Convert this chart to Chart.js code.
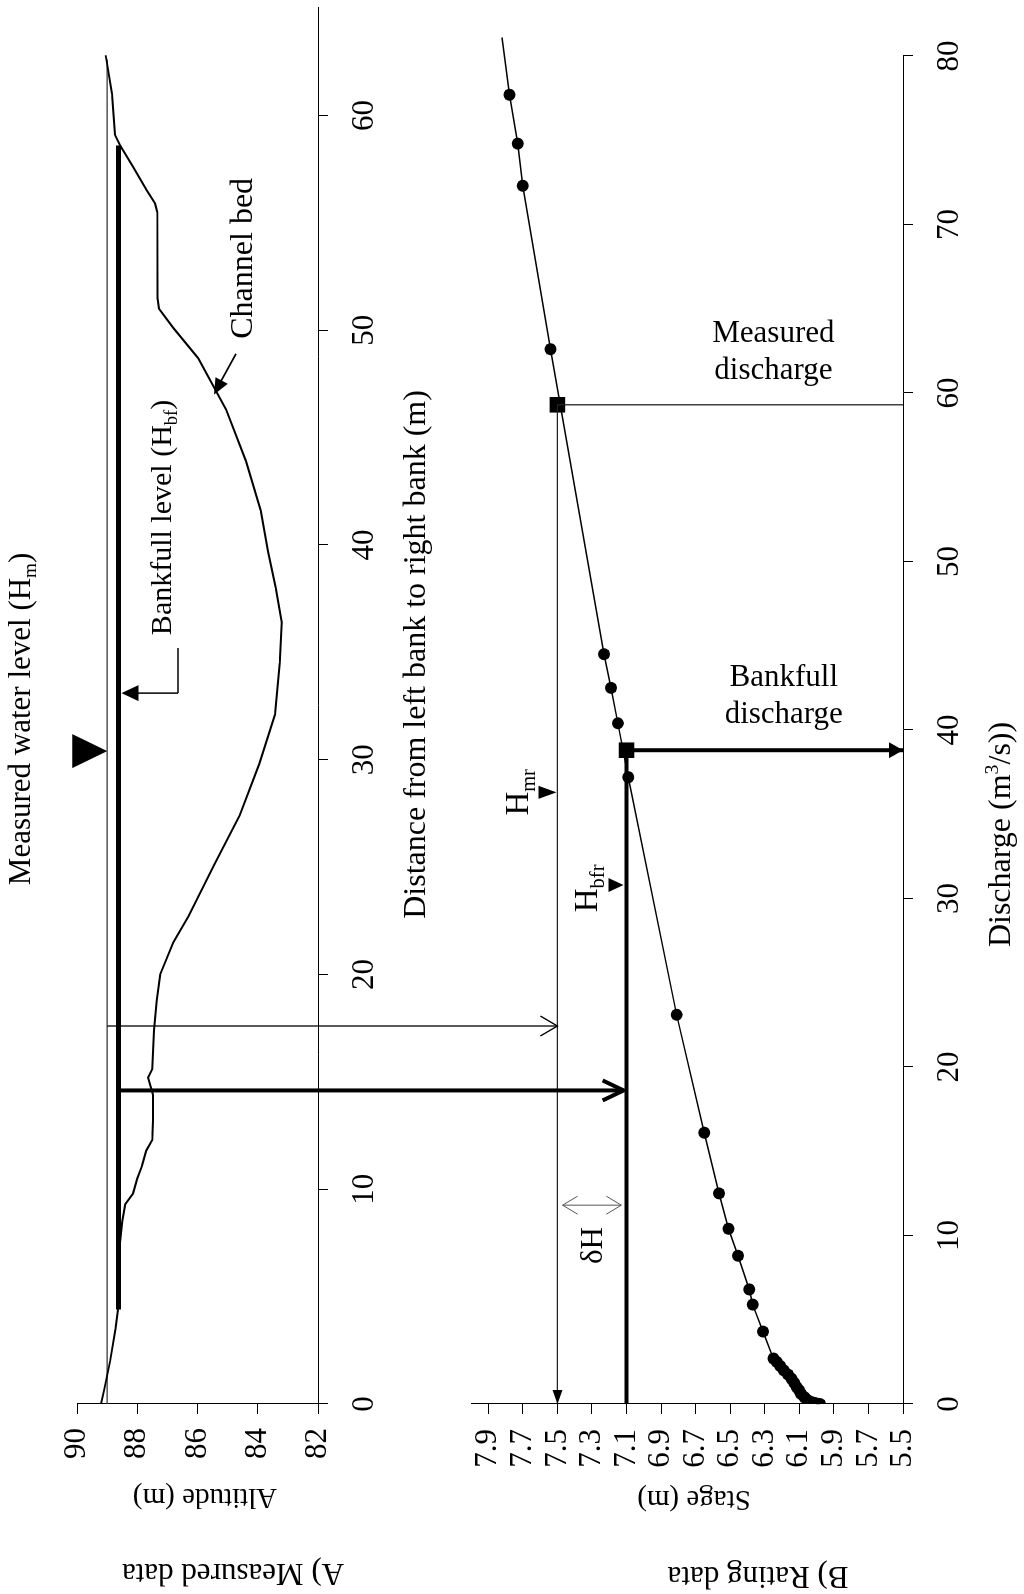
<!DOCTYPE html>
<html>
<head>
<meta charset="utf-8">
<script src="https://cdn.jsdelivr.net/npm/chart.js@4.4.1/dist/chart.umd.min.js"></script>
<style>
  html, body { margin: 0; padding: 0; background: #fff; overflow: hidden; }
  /* the figure is drawn upright (1594 x 1024) and turned a quarter left */
  #page { position: absolute; left: 0; top: 0; width: 1594px; height: 1024px;
          transform-origin: 0 0; transform: translateY(1594px) rotate(-90deg); }
  #page canvas { position: absolute; left: 0; top: 0; }
</style>
</head>
<body>
<div id="page">
  <canvas id="chartA" width="1594" height="1024"></canvas>
  <canvas id="chartB" width="1594" height="1024"></canvas>
</div>
<script>
// ---- A) measured data: channel cross-section ----
var bedDistance = [0, 0.65, 2, 3.5, 4.4, 5.5, 7.4, 8.5, 9.3, 9.8, 10.5, 11.1, 11.8, 12.3, 13.2, 14.4, 15.2, 15.6,
                   17.4, 18.8, 20, 21.5, 22.7, 25.1, 27.4, 29.8, 32.1, 34.5, 36.4, 38, 39.7, 41.6, 43.9, 46.3,
                   48.7, 50.1, 51, 51.5, 55.5, 55.9, 56.5, 57.6, 58.6, 59.1, 61, 62.4, 62.8];
var bedAltitude = [89.2, 89.1, 88.9, 88.72, 88.64, 88.62, 88.58, 88.5, 88.4, 88.14, 88.0, 87.84, 87.7, 87.5, 87.48, 87.48, 87.64, 87.5,
                   87.44, 87.35, 87.24, 86.8, 86.3, 85.45, 84.6, 83.95, 83.43, 83.27, 83.2, 83.4, 83.66, 83.9, 84.39, 85.05,
                   85.98, 86.8, 87.28, 87.33, 87.34, 87.41, 87.68, 88.14, 88.57, 88.74, 88.84, 89.0, 89.05];
var waterLevel = 89.0;            // H_m
var waterExtent = [0, 62.6];
var bankfullLevel = 88.62;        // H_bf
var bankfullExtent = [4.4, 58.6];
var markerDistance = 30.4;
var distanceTicks = [0, 10, 20, 30, 40, 50, 60];
var altitudeTicks = [82, 84, 86, 88, 90];

// ---- B) rating data ----
var ratingQ = [0, 0.03, 0.08, 0.15, 0.25, 0.4, 0.6, 0.8, 1.0, 1.25, 1.5, 1.75, 2.0, 2.25, 2.5, 2.7,
               4.3, 5.9, 6.8, 8.8, 10.4, 12.5, 16.1, 23.1, 37.2, 40.4, 42.5, 44.5, 62.6, 72.3, 74.8, 77.7];
var ratingStage = [5.98, 6.0, 6.02, 6.04, 6.055, 6.07, 6.09, 6.1, 6.115, 6.13, 6.145, 6.165, 6.19, 6.21, 6.23, 6.25,
                   6.31, 6.37, 6.39, 6.455, 6.51, 6.565, 6.65, 6.81, 7.09, 7.15, 7.19, 7.23, 7.54, 7.7, 7.73, 7.777];
var curveEnd = [81.1, 7.82];
var measuredQ = 59.3, measuredStage = 7.5;     // H_mr
var bankfullQ = 38.8, bankfullStage = 7.1;     // H_bfr
var dischargeTicks = [0, 10, 20, 30, 40, 50, 60, 70, 80];
var stageTicks = [5.5, 5.7, 5.9, 6.1, 6.3, 6.5, 6.7, 6.9, 7.1, 7.3, 7.5, 7.7, 7.9];

var FAM = '"Liberation Serif", "Times New Roman", serif';
Chart.defaults.font.family = FAM;
Chart.defaults.color = '#000';

function xy(xs, ys) { return xs.map(function (x, i) { return { x: x, y: ys[i] }; }); }

function rich(ctx, parts, x, y, size, angle, align) {
  ctx.save();
  ctx.translate(x, y);
  if (angle) ctx.rotate(angle);
  var w = 0;
  parts.forEach(function (p) { ctx.font = (p.s ? size * 0.62 : size) + 'px ' + FAM; w += ctx.measureText(p.t).width; });
  var cx = align === 'left' ? 0 : -w / 2;
  ctx.textAlign = 'left';
  ctx.textBaseline = 'middle';
  ctx.fillStyle = '#000';
  parts.forEach(function (p) {
    ctx.font = (p.s ? size * 0.62 : size) + 'px ' + FAM;
    var dy = p.s === 'sub' ? size * 0.3 : (p.s === 'sup' ? -size * 0.3 : 0);
    ctx.fillText(p.t, cx, dy);
    cx += ctx.measureText(p.t).width;
  });
  ctx.restore();
}

function seg(ctx, x1, y1, x2, y2, lw) {
  ctx.lineWidth = lw;
  ctx.beginPath(); ctx.moveTo(x1, y1); ctx.lineTo(x2, y2); ctx.stroke();
}

// arrow head with its tip at (x2, y2)
function head(ctx, x1, y1, x2, y2, len, half, fill, lw) {
  var a = Math.atan2(y2 - y1, x2 - x1);
  var bx = x2 - len * Math.cos(a), by = y2 - len * Math.sin(a);
  var px = -Math.sin(a) * half, py = Math.cos(a) * half;
  ctx.beginPath();
  ctx.moveTo(bx + px, by + py); ctx.lineTo(x2, y2); ctx.lineTo(bx - px, by - py);
  if (fill) { ctx.closePath(); ctx.fill(); }
  else { ctx.lineWidth = lw; ctx.stroke(); }
}

function axisStyle(ticksArr, fmt, pad) {
  return {
    type: 'linear',
    grid: { display: true, drawOnChartArea: false, drawTicks: true, tickLength: 10, color: '#000' },
    border: { display: true, color: '#000', width: 1 },
    ticks: { font: { size: 31 }, color: '#000', padding: pad, maxRotation: 0, autoSkip: false,
             callback: fmt || function (v) { return String(v); } },
    afterBuildTicks: function (axis) { axis.ticks = ticksArr.map(function (v) { return { value: v }; }); }
  };
}

// ---------------- panel A ----------------
var labelsA = {
  id: 'labelsA',
  afterDraw: function (chart) {
    var ctx = chart.ctx, x = chart.scales.x, y = chart.scales.y, ca = chart.chartArea;
    ctx.save();
    ctx.fillStyle = '#000'; ctx.strokeStyle = '#000';

    // big marker on the measured water level
    var tx = x.getPixelForValue(markerDistance), ty = y.getPixelForValue(waterLevel);
    ctx.beginPath(); ctx.moveTo(tx - 17, ty - 35); ctx.lineTo(tx + 17, ty - 35); ctx.lineTo(tx, ty); ctx.closePath(); ctx.fill();
    rich(ctx, [{ t: 'Measured water level (H' }, { t: 'm', s: 'sub' }, { t: ')' }],
         x.getPixelForValue(31.9), ca.top - 55, 31);

    // bankfull level label + leader
    var lx1 = x.getPixelForValue(35.2), lx2 = x.getPixelForValue(33.1), ly = y.getPixelForValue(86.65);
    var tipY = y.getPixelForValue(bankfullLevel) + 3;
    seg(ctx, lx1, ly, lx2, ly, 1.5);
    seg(ctx, lx2, ly, lx2, tipY + 14, 1.5);
    head(ctx, lx2, ly, lx2, tipY, 17, 8, true);
    rich(ctx, [{ t: 'Bankfull level (H' }, { t: 'bf', s: 'sub' }, { t: ')' }],
         x.getPixelForValue(35.8), y.getPixelForValue(87.15), 30, 0, 'left');

    // channel bed label + arrow
    var cx1 = x.getPixelForValue(48.9), cy1 = y.getPixelForValue(84.72);
    var cx2 = x.getPixelForValue(47.0), cy2 = y.getPixelForValue(85.45);
    seg(ctx, cx1, cy1, cx2 + 8, cy2 + 4, 1.8);
    head(ctx, cx1, cy1, cx2, cy2, 16, 7, true);
    rich(ctx, [{ t: 'Channel bed' }], x.getPixelForValue(49.6), y.getPixelForValue(84.46), 32, 0, 'left');

    // axis titles
    rich(ctx, [{ t: 'Distance from left bank to right bank (m)' }], x.getPixelForValue(34.9), ca.bottom + 99, 32);
    rich(ctx, [{ t: 'Altitude (m)' }], ca.left - 93, 205, 29, -Math.PI / 2);
    rich(ctx, [{ t: 'A) Measured data' }], ca.left - 168, 233, 31, -Math.PI / 2);
    ctx.restore();
  }
};

var scaleAX = axisStyle(distanceTicks, null, 18);
scaleAX.min = 0; scaleAX.max = 65; scaleAX.position = 'bottom';
scaleAX.afterFit = function (s) { s.height = 1024 - 318; };
var scaleAY = axisStyle(altitudeTicks, null, 14);
scaleAY.min = 82; scaleAY.max = 90; scaleAY.position = 'left';
scaleAY.afterFit = function (s) { s.width = 190; };

var chartA = new Chart(document.getElementById('chartA'), {
  type: 'scatter',
  data: {
    datasets: [
      { label: 'Channel bed', data: xy(bedDistance, bedAltitude), showLine: true,
        borderColor: '#000', borderWidth: 2, pointRadius: 0 },
      { label: 'Measured water level', data: waterExtent.map(function (d) { return { x: d, y: waterLevel }; }),
        showLine: true, borderColor: '#333', borderWidth: 1.2, pointRadius: 0 },
      { label: 'Bankfull level', data: bankfullExtent.map(function (d) { return { x: d, y: bankfullLevel }; }),
        showLine: true, borderColor: '#000', borderWidth: 5, pointRadius: 0 }
    ]
  },
  options: {
    responsive: false, animation: false, devicePixelRatio: 1,
    layout: { padding: { left: 0, top: 77, right: 8, bottom: 0 } },
    plugins: { legend: { display: false }, tooltip: { enabled: false } },
    scales: { x: scaleAX, y: scaleAY }
  },
  plugins: [labelsA]
});

// ---------------- panel B ----------------
var labelsB = {
  id: 'labelsB',
  afterDraw: function (chart) {
    var ctx = chart.ctx, x = chart.scales.x, y = chart.scales.y, ca = chart.chartArea;
    var ax = chartA.scales.x, ay = chartA.scales.y;
    ctx.save();
    ctx.fillStyle = '#000'; ctx.strokeStyle = '#000';

    // carry the levels from panel A down to the stage axis
    var px = ax.getPixelForValue(17.6), y1 = ay.getPixelForValue(waterLevel), y2 = y.getPixelForValue(measuredStage);
    seg(ctx, px, y1, px, y2, 1.3);
    head(ctx, px, y1, px, y2, 17, 10, false, 1.3);
    px = ax.getPixelForValue(14.6); y1 = ay.getPixelForValue(bankfullLevel); y2 = y.getPixelForValue(bankfullStage) - 3;
    seg(ctx, px, y1, px, y2, 4);
    head(ctx, px, y1, px, y2, 21, 10, false, 4);

    // arrow tips on the rating lines
    var sx0 = x.getPixelForValue(0), sy = y.getPixelForValue(measuredStage);
    head(ctx, sx0 + 20, sy, sx0, sy, 14, 5, true);
    var qx = x.getPixelForValue(bankfullQ), by = y.getPixelForValue(5.5);
    head(ctx, qx, by - 20, qx, by, 14, 8, true);

    // delta H
    var dx = x.getPixelForValue(11.8), da = y.getPixelForValue(7.47), db = y.getPixelForValue(7.13);
    ctx.strokeStyle = '#555';
    seg(ctx, dx, da, dx, db, 1);
    head(ctx, dx, db, dx, da, 15, 9, false, 1);
    head(ctx, dx, da, dx, db, 15, 9, false, 1);
    ctx.strokeStyle = '#000';
    rich(ctx, [{ t: '\u03b4H' }], x.getPixelForValue(9.4), y.getPixelForValue(7.29), 31);

    // rated level markers
    var hx = x.getPixelForValue(36.3), hy = y.getPixelForValue(measuredStage) - 1;
    ctx.beginPath(); ctx.moveTo(hx - 6.5, hy - 18); ctx.lineTo(hx + 6.5, hy - 18); ctx.lineTo(hx, hy); ctx.closePath(); ctx.fill();
    rich(ctx, [{ t: 'H' }, { t: 'mr', s: 'sub' }], hx, y.getPixelForValue(7.72), 33);
    hx = x.getPixelForValue(30.8); hy = y.getPixelForValue(bankfullStage) - 3;
    ctx.beginPath(); ctx.moveTo(hx - 7, hy - 15); ctx.lineTo(hx + 7, hy - 15); ctx.lineTo(hx, hy); ctx.closePath(); ctx.fill();
    rich(ctx, [{ t: 'H' }, { t: 'bfr', s: 'sub' }], x.getPixelForValue(30.6), y.getPixelForValue(7.32), 33);

    // labels read across the page
    var up = Math.PI / 2;
    rich(ctx, [{ t: 'Measured' }], x.getPixelForValue(63.5), y.getPixelForValue(6.25), 31, up);
    rich(ctx, [{ t: 'discharge' }], x.getPixelForValue(61.3), y.getPixelForValue(6.25), 31, up);
    rich(ctx, [{ t: 'Bankfull' }], x.getPixelForValue(43.1), y.getPixelForValue(6.19), 31, up);
    rich(ctx, [{ t: 'discharge' }], x.getPixelForValue(40.9), y.getPixelForValue(6.19), 31, up);

    // axis titles
    rich(ctx, [{ t: 'Discharge (m' }, { t: '3', s: 'sup' }, { t: '/s))' }], x.getPixelForValue(33.8), ca.bottom + 99, 32);
    rich(ctx, [{ t: 'Stage (m)' }], ca.left - 95, 694, 29, -Math.PI / 2);
    rich(ctx, [{ t: 'B) Rating data' }], ca.left - 171, 758, 31, -Math.PI / 2);
    ctx.restore();
  }
};

var scaleBX = axisStyle(dischargeTicks, null, 18);
scaleBX.min = 0; scaleBX.max = 80; scaleBX.position = 'bottom';
scaleBX.afterFit = function (s) { s.height = 1024 - 903; };
var scaleBY = axisStyle(stageTicks, function (v) { return v.toFixed(1); }, 15);
scaleBY.min = 5.5; scaleBY.max = 8.0; scaleBY.position = 'left';
scaleBY.afterFit = function (s) { s.width = 190; };

var chartB = new Chart(document.getElementById('chartB'), {
  type: 'scatter',
  data: {
    datasets: [
      { label: 'Measured discharge', showLine: true, borderColor: '#222', borderWidth: 1.3, pointRadius: 0,
        data: [{ x: 0, y: measuredStage }, { x: measuredQ, y: measuredStage }, { x: measuredQ, y: 5.5 }] },
      { label: 'Bankfull discharge', showLine: true, borderColor: '#000', borderWidth: 4, pointRadius: 0,
        data: [{ x: 0, y: bankfullStage }, { x: bankfullQ, y: bankfullStage }, { x: bankfullQ, y: 5.5 }] },
      { label: 'Rating curve', showLine: true, borderColor: '#000', borderWidth: 1.5, pointRadius: 0, clip: false,
        data: xy(ratingQ, ratingStage).concat([{ x: curveEnd[0], y: curveEnd[1] }]) },
      { label: 'Rating data', showLine: false, data: xy(ratingQ, ratingStage),
        pointRadius: 6, pointBackgroundColor: '#000', pointBorderColor: '#000', pointBorderWidth: 0 },
      { label: 'Rated points', showLine: false, pointStyle: 'rect', pointRadius: 11,
        pointBackgroundColor: '#000', pointBorderColor: '#000', pointBorderWidth: 0,
        data: [{ x: measuredQ, y: measuredStage }, { x: bankfullQ, y: bankfullStage }] }
    ]
  },
  options: {
    responsive: false, animation: false, devicePixelRatio: 1,
    layout: { padding: { left: 0, top: 471, right: 56, bottom: 0 } },
    plugins: { legend: { display: false }, tooltip: { enabled: false } },
    scales: { x: scaleBX, y: scaleBY }
  },
  plugins: [labelsB]
});
</script>
</body>
</html>
